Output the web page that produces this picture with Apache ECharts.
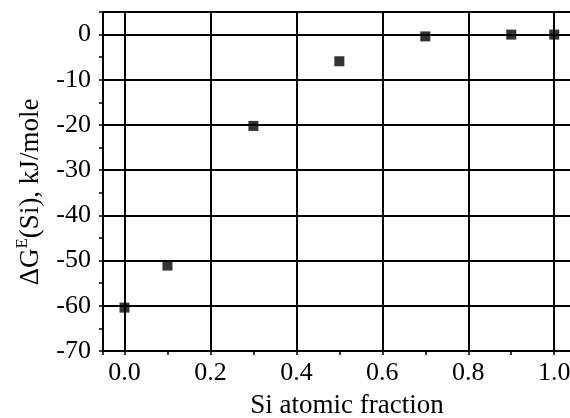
<!DOCTYPE html>
<html>
<head>
<meta charset="utf-8">
<script src="https://cdn.jsdelivr.net/npm/echarts@6/dist/echarts.min.js"></script>
<style>
html,body{margin:0;padding:0;background:#fff;overflow:hidden;width:570px;height:418px;}
#chart{width:580px;height:418px;}
</style>
</head>
<body>
<div id="chart"></div>
<script>
// Data
const siFraction = [0.0, 0.1, 0.3, 0.5, 0.7, 0.9, 1.0];
const deltaGE = [-60.4, -51.1, -20.2, -5.9, -0.4, 0.0, 0.0];
const xAxisTitle = 'Si atomic fraction';
const yAxisTitleParts = ['\u0394G', 'E', '(Si), kJ/mole'];

const FONT = '"Liberation Serif", "Times New Roman", serif';
const chart = echarts.init(document.getElementById('chart'), null, {renderer: 'canvas'});

const points = siFraction.map((x, i) => [x, deltaGE[i]]);

chart.setOption({
  animation: false,
  backgroundColor: '#fff',
  grid: {left: 103, top: 12, right: 0, bottom: 67, containLabel: false},
  xAxis: {
    type: 'value',
    min: -0.05,
    max: 1.06,
    splitNumber: 5,
    axisLine: {show: true, onZero: false, lineStyle: {color: '#000', width: 1.5}},
    axisTick: {show: true, inside: false, length: 4, lineStyle: {color: '#000', width: 1.5}},
    minorTick: {show: true, splitNumber: 2, length: 4, lineStyle: {color: '#000', width: 1.5}},
    splitLine: {show: true, lineStyle: {color: '#000', width: 2}},
    axisLabel: {
      showMinLabel: false, showMaxLabel: false,
      margin: 9, color: '#000', fontFamily: FONT, fontSize: 26,
      formatter: v => v.toFixed(1)
    }
  },
  yAxis: {
    type: 'value',
    min: -70,
    max: 5,
    splitNumber: 7,
    axisLine: {show: true, onZero: false, lineStyle: {color: '#000', width: 1.5}},
    axisTick: {show: true, inside: false, length: 4, lineStyle: {color: '#000', width: 1.5}},
    minorTick: {show: true, splitNumber: 2, length: 4, lineStyle: {color: '#000', width: 1.5}},
    splitLine: {show: true, lineStyle: {color: '#000', width: 2}},
    axisLabel: {
      showMaxLabel: false,
      margin: 12, color: '#000', fontFamily: FONT, fontSize: 26,
      formatter: v => String(v)
    }
  },
  graphic: [
    {
      type: 'text',
      x: 347, y: 406,
      style: {
        text: xAxisTitle,
        fill: '#000',
        font: '27px ' + FONT,
        align: 'center',
        verticalAlign: 'middle'
      }
    },
    {
      type: 'text',
      x: 31, y: 192,
      rotation: Math.PI / 2,
      style: {
        text: '{a|' + yAxisTitleParts[0] + '}{s|' + yAxisTitleParts[1] + '}{a|' + yAxisTitleParts[2] + '}',
        fill: '#000',
        align: 'center',
        verticalAlign: 'middle',
        rich: {
          a: {fontFamily: FONT, fontSize: 27, lineHeight: 34, fill: '#000'},
          s: {fontFamily: FONT, fontSize: 17, lineHeight: 18, verticalAlign: 'top', fill: '#000'}
        }
      }
    }
  ],
  series: [{
    type: 'scatter',
    data: points,
    symbol: 'rect',
    symbolSize: 10,
    itemStyle: {color: '#000'},
    z: 5
  }]
});
</script>
</body>
</html>
